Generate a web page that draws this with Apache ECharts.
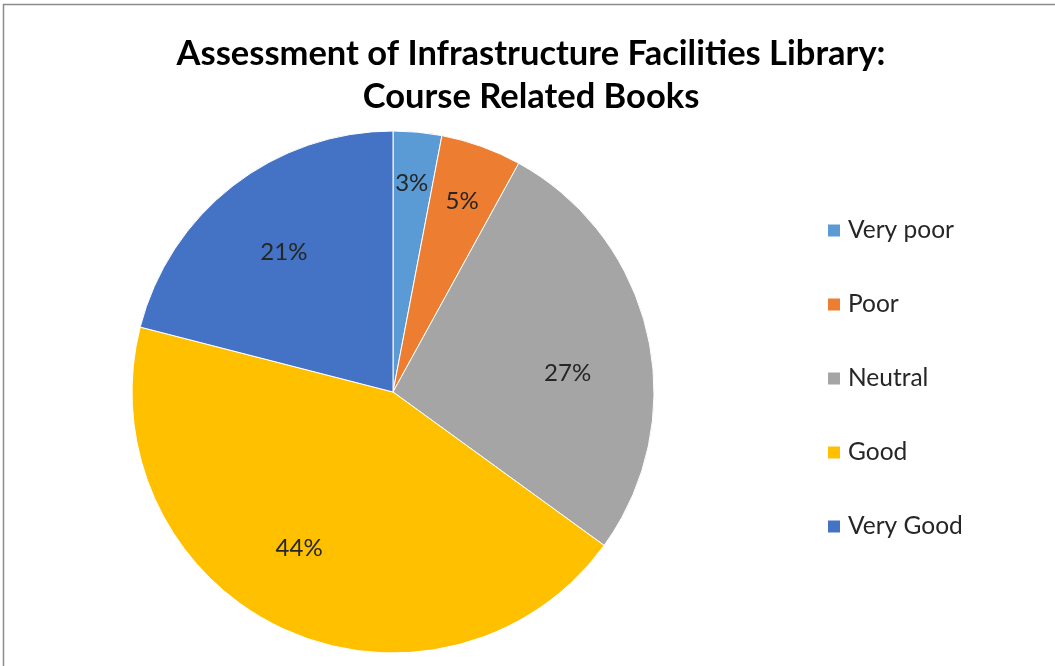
<!DOCTYPE html>
<html>
<head>
<meta charset="utf-8">
<script src="https://cdn.jsdelivr.net/npm/echarts@6/dist/echarts.min.js"></script>
<style>
html,body{margin:0;padding:0;background:#fff;}
#main{width:1055px;height:666px;}
</style>
</head>
<body>
<div id="main"></div>
<script>
var titleText = 'Assessment of Infrastructure Facilities Library:\nCourse Related Books';
var categories = ['Very poor', 'Poor', 'Neutral', 'Good', 'Very Good'];
var values = [3, 5, 27, 44, 21];
var colors = ['#5B9BD5', '#ED7D31', '#A5A5A5', '#FFC000', '#4472C4'];
var smallSlices = ['Very poor', 'Poor'];
var labelNudge = [[-1, 0], [-2, 7], [-4, 21], [-16, -9], [3, 5]];

var FONT = 'Lato';
var center = [393, 392];

function mainData() {
  return categories.map(function (c, i) {
    return { name: c, value: values[i], itemStyle: { color: colors[i] } };
  });
}
function labelData(showSmall) {
  return categories.map(function (c, i) {
    var isSmall = smallSlices.indexOf(c) >= 0;
    return { name: c, value: values[i], label: { show: showSmall ? isSmall : !isSmall, offset: labelNudge[i] } };
  });
}
var labelCommon = {
  position: 'inside',
  formatter: '{c}%',
  fontFamily: FONT,
  fontSize: 24,
  color: '#262626'
};
var chart = echarts.init(document.getElementById('main'), null, { renderer: 'canvas' });
chart.setOption({
  animation: false,
  backgroundColor: '#fff',
  title: {
    text: titleText,
    left: 526,
    textAlign: 'center',
    top: 27,
    textStyle: { fontFamily: FONT, fontWeight: 'bold', fontSize: 34.5, color: '#000', lineHeight: 43 }
  },
  legend: {
    orient: 'vertical',
    left: 826,
    top: 218,
    padding: 0,
    itemWidth: 14,
    itemHeight: 14,
    itemGap: 49,
    icon: 'rect',
    data: categories,
    textStyle: { fontFamily: FONT, fontSize: 24.5, color: '#262626', lineHeight: 20, padding: [0, 0, 0, 2] }
  },
  graphic: [{
    type: 'rect',
    shape: { x: 3.5, y: 4.5, width: 1060, height: 670 },
    style: { fill: 'none', stroke: '#8c8c8c', lineWidth: 1.5 },
    silent: true
  }],
  series: [{
    type: 'pie',
    center: center,
    radius: [0, 261],
    startAngle: 90,
    clockwise: true,
    label: { show: false },
    labelLine: { show: false },
    emphasis: { disabled: true },
    itemStyle: { borderColor: '#fff', borderWidth: 1 },
    data: mainData()
  }, {
    type: 'pie',
    center: center,
    radius: [100, 260],
    startAngle: 90,
    clockwise: true,
    silent: true,
    legendHoverLink: false,
    itemStyle: { color: 'rgba(0,0,0,0)', borderWidth: 0 },
    label: labelCommon,
    labelLine: { show: false },
    emphasis: { disabled: true },
    data: labelData(false)
  }, {
    type: 'pie',
    center: center,
    radius: [150, 264],
    startAngle: 90,
    clockwise: true,
    silent: true,
    legendHoverLink: false,
    itemStyle: { color: 'rgba(0,0,0,0)', borderWidth: 0 },
    label: labelCommon,
    labelLine: { show: false },
    emphasis: { disabled: true },
    data: labelData(true)
  }]
});
</script>
</body>
</html>
